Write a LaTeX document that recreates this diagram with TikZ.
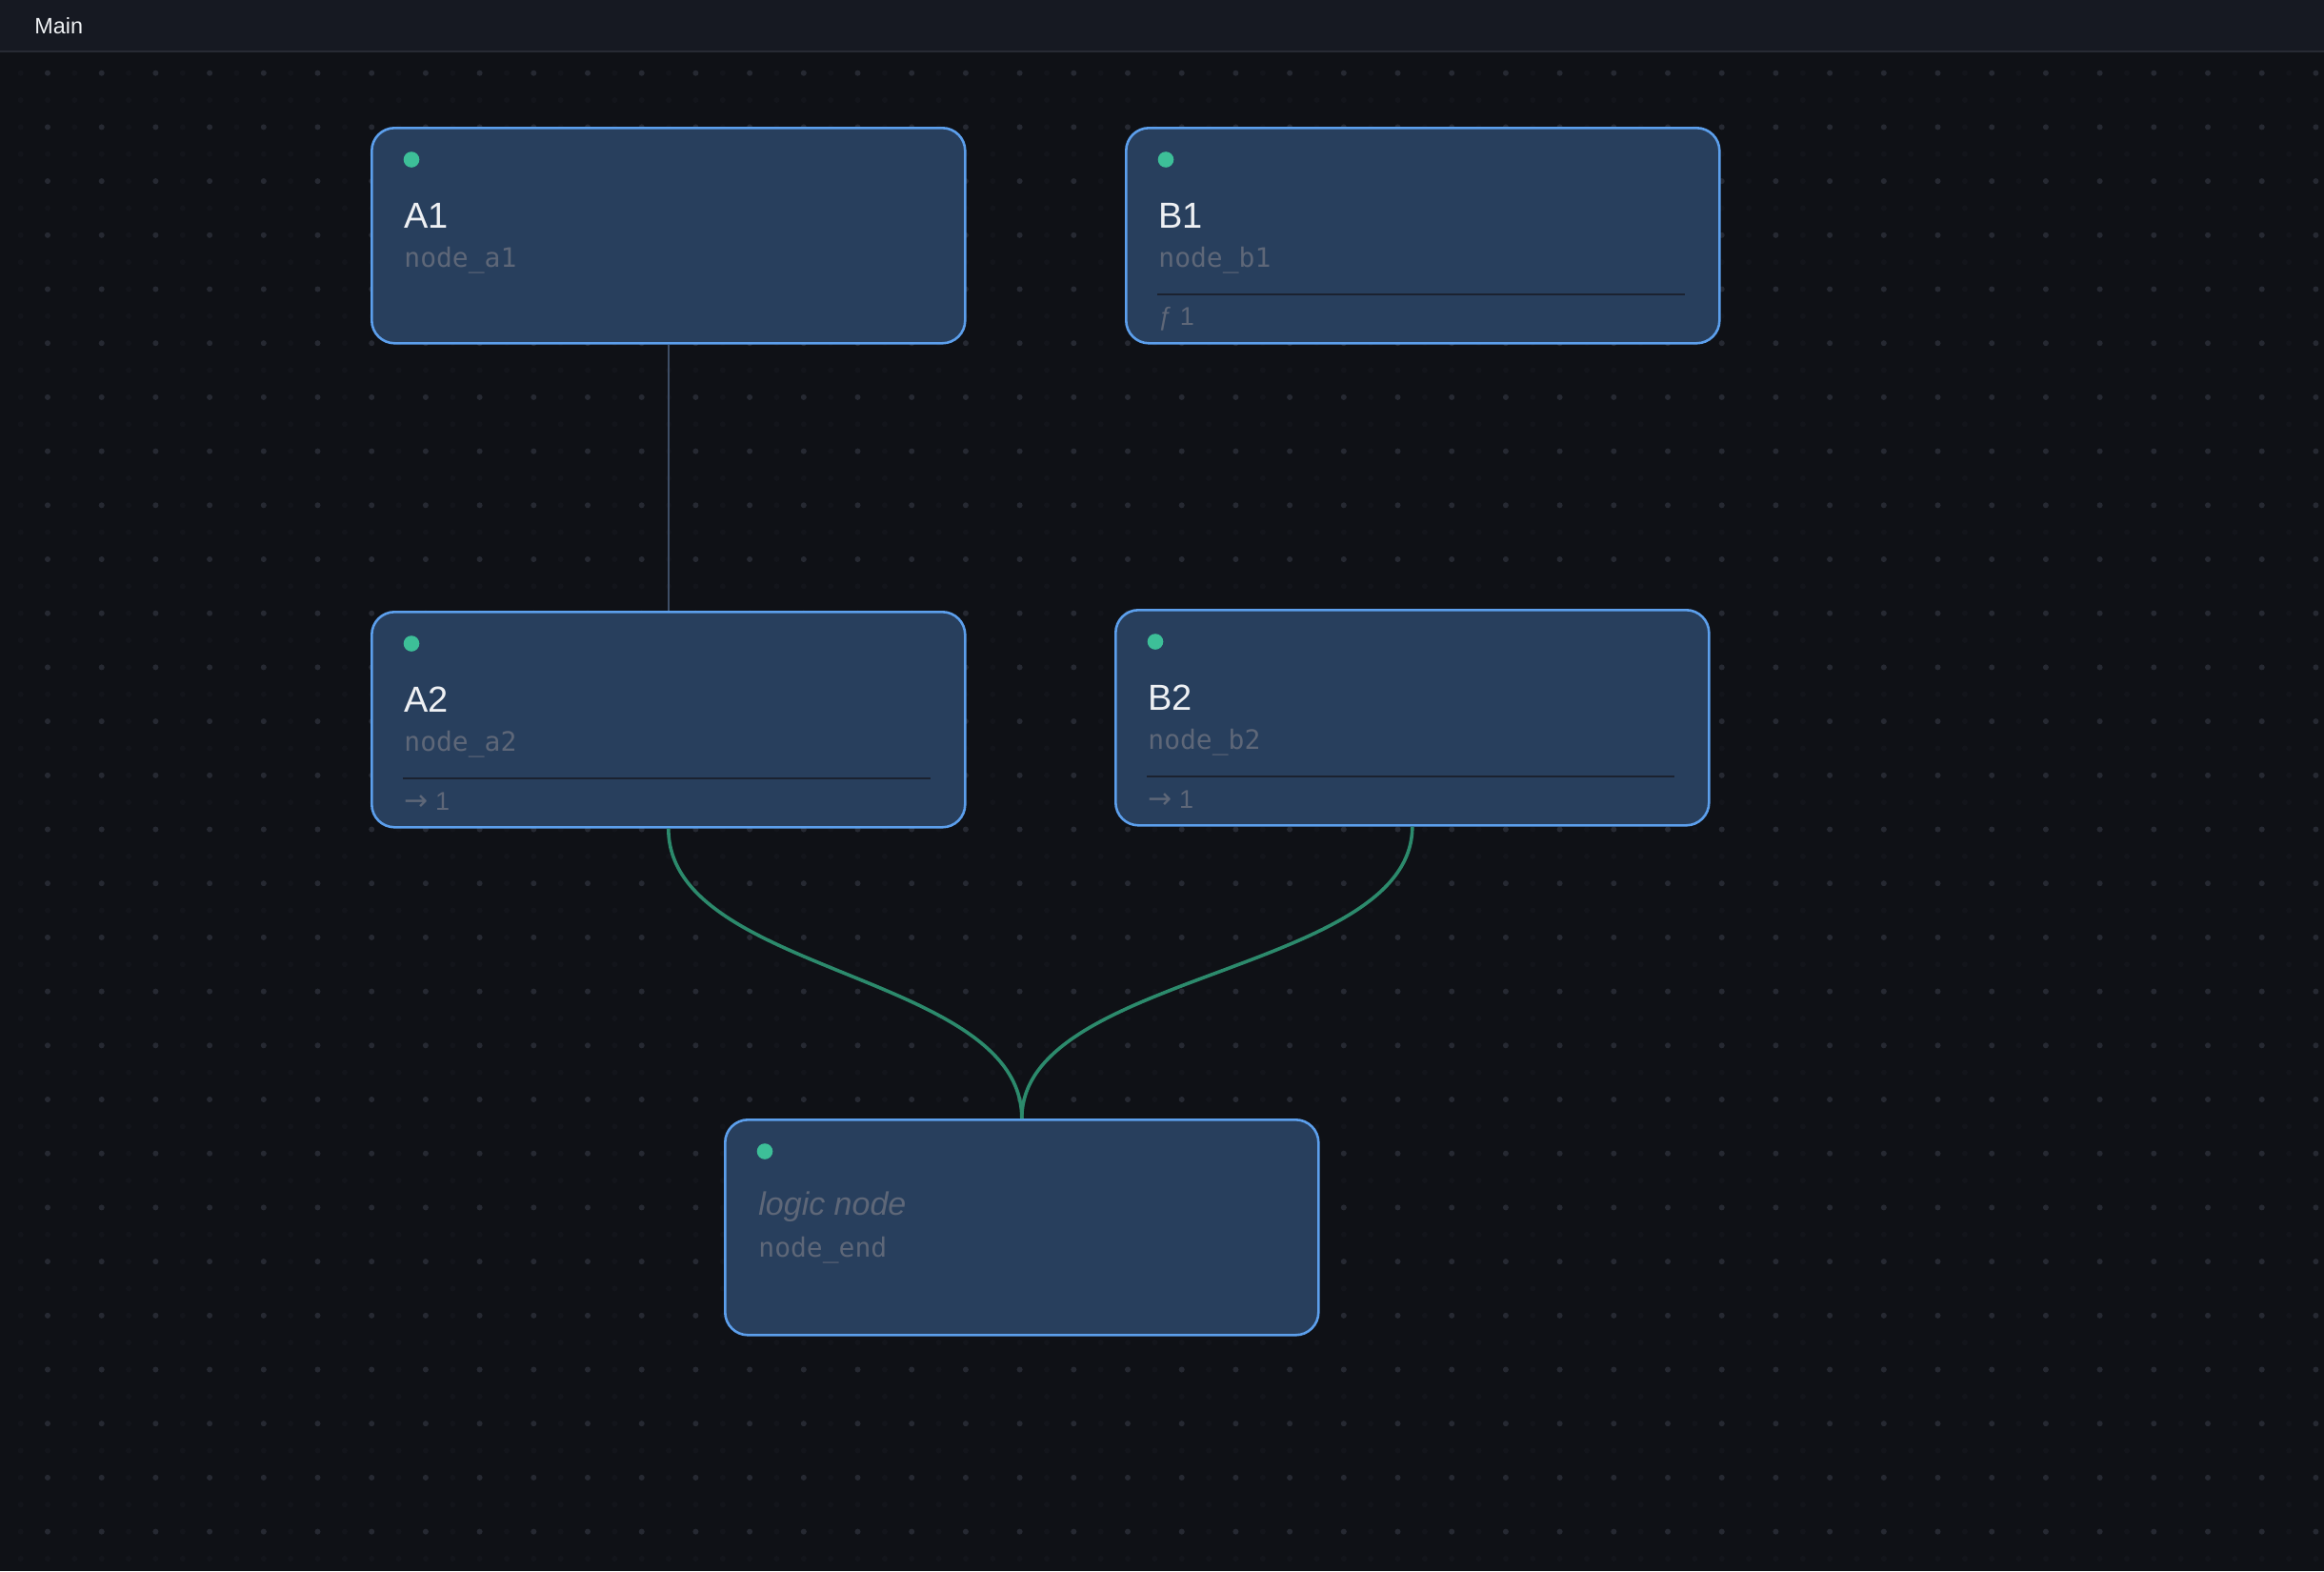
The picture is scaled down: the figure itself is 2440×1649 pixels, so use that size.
\documentclass[tikz,border=0pt]{standalone}
\usepackage{fontspec}
\setmainfont{Liberation Sans}
\newfontfamily\monofont{DejaVu Sans Mono}
\newfontfamily\arrowfont{DejaVu Sans}
\definecolor{canvas}{HTML}{0F1116}
\definecolor{headerbg}{HTML}{161922}
\definecolor{headerline}{HTML}{272A33}
\definecolor{gridfaint}{HTML}{13151B}
\definecolor{gridbright}{HTML}{262932}
\definecolor{boxfill}{HTML}{283F5D}
\definecolor{boxline}{HTML}{5C9FEC}
\definecolor{dotgreen}{HTML}{3DBF98}
\definecolor{titlewhite}{HTML}{EEF0F3}
\definecolor{idgray}{HTML}{5E6778}
\definecolor{divline}{HTML}{1B2230}
\definecolor{edgegreen}{HTML}{2C8A6C}
\definecolor{edgegray}{HTML}{3E4E66}

\begin{document}
\begin{tikzpicture}[x=0.5pt,y=-0.5pt,
  flowbox/.style={draw=boxline, line width=1.3pt, fill=boxfill, rounded corners=12pt,
    minimum width=311.5pt, minimum height=113pt, inner sep=0pt, anchor=north west},
  statusdot/.style={fill=dotgreen},
  boxtitle/.style={anchor=base west, inner sep=0pt, text=titlewhite, font=\fontsize{19pt}{22pt}\selectfont},
  logictitle/.style={anchor=base west, inner sep=0pt, text=idgray, font=\itshape\fontsize{17pt}{20pt}\selectfont},
  boxid/.style={anchor=base west, inner sep=0pt, text=idgray, font=\monofont\fontsize{14pt}{16pt}\selectfont},
  boxfoot/.style={anchor=base west, inner sep=0pt, text=idgray, font=\fontsize{13.5pt}{16pt}\selectfont},
  divider/.style={draw=divline, line width=1pt},
  flowedge/.style={draw=edgegreen, line width=1.8pt},
  plainedge/.style={draw=edgegray, line width=1pt}]
\useasboundingbox (0,0) rectangle (2440,1649);
\fill[canvas] (0,0) rectangle (2440,1649);

% dot grid
\foreach \i in {0,...,85}
  \foreach \j in {0,...,55}
    \fill[gridfaint] (21.7+28.35*\i,76.7+28.35*\j) circle (3);
\foreach \i in {0,...,42}
  \foreach \j in {0,...,27}
    \fill[gridbright] (50+56.7*\i,76.7+56.7*\j) circle (3);

% header
\fill[headerbg] (0,0) rectangle (2440,54);
\draw[headerline, line width=1pt] (0,54) -- (2440,54);
\node[anchor=base west, inner sep=0pt, text=titlewhite, font=\fontsize{11.7pt}{14pt}\selectfont] (tab) at (36,35) {Main};

% boxes
\node[flowbox] (a1) at (389,133) {};
\node[flowbox] (b1) at (1181,133) {};
\node[flowbox] (a2) at (389,641) {};
\node[flowbox] (b2) at (1170,639) {};
\node[flowbox] (logic) at (760,1174) {};

% A1
\fill[statusdot] (432,167.5) circle (8.3);
\node[boxtitle] (a1title) at (424,239) {A1};
\node[boxid] (a1id) at (424,280) {node\_a1};

% B1
\fill[statusdot] (1224,167.5) circle (8.3);
\node[boxtitle] (b1title) at (1216,239) {B1};
\node[boxid] (b1id) at (1216,280) {node\_b1};
\draw[divider] (1215,309) -- (1769,309);
\node[boxfoot] (b1foot) at (1216,341.5) {ƒ 1};

% A2
\fill[statusdot] (432,675.5) circle (8.3);
\node[boxtitle] (a2title) at (424,747) {A2};
\node[boxid] (a2id) at (424,788) {node\_a2};
\draw[divider] (423,817) -- (977,817);
\node[boxfoot] (a2foot) at (424,850) {{\arrowfont\fontsize{15pt}{16pt}\selectfont →} 1};

% B2
\fill[statusdot] (1213,673.5) circle (8.3);
\node[boxtitle] (b2title) at (1205,745) {B2};
\node[boxid] (b2id) at (1205,786) {node\_b2};
\draw[divider] (1204,815) -- (1758,815);
\node[boxfoot] (b2foot) at (1205,848) {{\arrowfont\fontsize{15pt}{16pt}\selectfont →} 1};

% logic node
\fill[statusdot] (803,1208.5) circle (8.3);
\node[logictitle] (logictitle) at (796,1275) {logic node};
\node[boxid] (logicid) at (796,1319) {node\_end};

% edges
\draw[plainedge] (a1.south) -- (a2.north);
\draw[flowedge] (a2.south) .. controls +(0,153.5) and +(0,-153.5) .. (logic.north);
\draw[flowedge] (b2.south) .. controls +(0,154) and +(0,-154) .. (logic.north);
\end{tikzpicture}
\end{document}
